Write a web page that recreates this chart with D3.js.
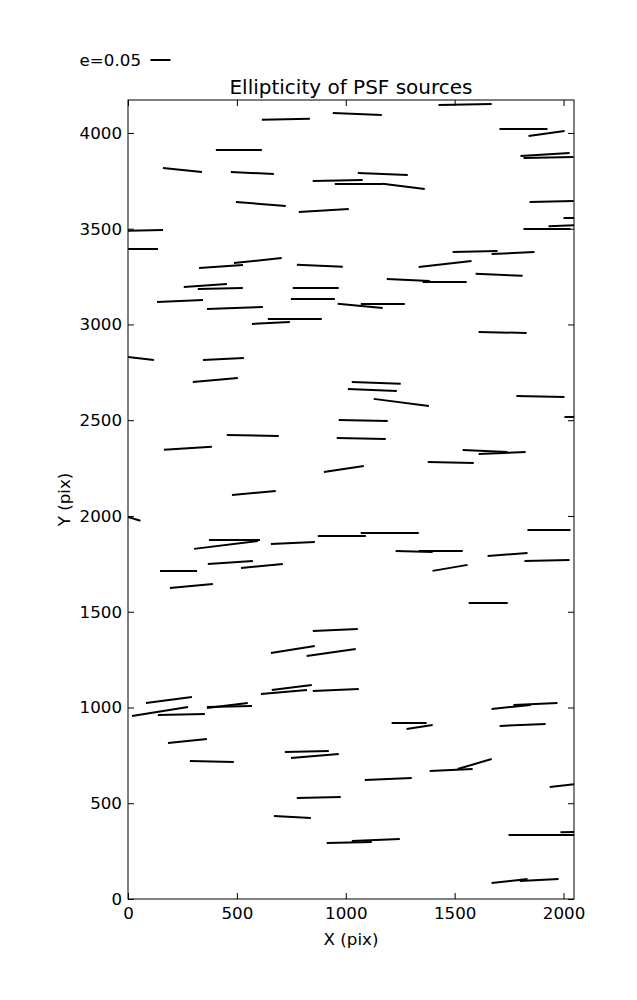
<!DOCTYPE html>
<html>
<head>
<meta charset="utf-8">
<script src="https://cdn.jsdelivr.net/npm/d3@7"></script>
<style>
  html, body { margin: 0; padding: 0; background: #fff; }
  text { font-family: "DejaVu Sans", sans-serif; }
</style>
</head>
<body>
<svg id="chart" width="637" height="1000"></svg>
<script>
// PSF source centres (pixel coordinates on the detector)
const xs = [1548,725,1053,1816,1922,509,250,571,1170,963,
  1060,1266,1915,1931,610,899,60,1945,2064,2023,
  1924,37,1594,1768,427,596,881,1456,1704,1287,
  1454,355,424,862,849,239,1170,1066,491,766,
  656,1720,37,438,401,1140,1122,1255,1894,2073,
  1080,573,1071,275,1640,1718,1482,991,578,0,
  489,450,757,982,1202,470,615,232,291,1314,
  1436,1743,1933,1924,1479,1654,952,757,933,188,
  716,752,954,147,245,456,466,273,385,821,
  858,876,755,1016,1138,1759,1871,1812,1291,1339,
  1484,1592,1195,2037,1846,1991,2050,1752,1888];
const ys = [4149,4071,4099,4021,3997,3911,3807,3791,3786,3752,
  3734,3721,3888,3872,3629,3595,3491,3642,3556,3517,
  3499,3394,3381,3373,3303,3334,3306,3316,3259,3232,
  3222,3204,3188,3191,3133,3123,3107,3097,3086,3029,
  3008,2958,2825,2820,2710,2695,2658,2593,2624,2517,
  2499,2420,2405,2353,2339,2329,2279,2245,2120,1995,
  1875,1849,1859,1896,1911,1757,1739,1713,1634,1815,
  1817,1799,1927,1768,1729,1546,1405,1303,1287,1039,
  1081,1104,1091,979,963,1010,1005,825,718,770,
  747,530,428,295,308,1003,1018,909,919,898,
  674,705,627,598,334,334,350,94,99];
// ellipticity magnitude
const es = [0.133,0.12,0.1225,0.12,0.091,0.115,0.098,0.1075,0.125,0.125,
  0.12,0.106,0.123,0.125,0.125,0.125,0.11,0.11,0.07,0.1,
  0.1175,0.11,0.1125,0.1075,0.11,0.12,0.115,0.133,0.1175,0.1075,
  0.11,0.108,0.1125,0.115,0.11,0.115,0.11,0.113,0.14,0.135,
  0.095,0.12,0.09,0.1025,0.113,0.1225,0.1225,0.139,0.12,0.075,
  0.1225,0.13,0.1225,0.12,0.1125,0.1175,0.115,0.101,0.11,0.065,
  0.1275,0.161,0.11,0.12,0.145,0.113,0.105,0.0925,0.108,0.0925,
  0.11,0.1,0.1075,0.1125,0.089,0.0975,0.1125,0.111,0.124,0.116,
  0.1155,0.101,0.115,0.142,0.1175,0.103,0.1125,0.098,0.11,0.11,
  0.12,0.11,0.0925,0.1125,0.12,0.098,0.11,0.115,0.0875,0.066,
  0.1075,0.0885,0.1175,0.11,0.1075,0.11,0.07,0.0905,0.0975];
// position angle of the whisker (degrees, counter-clockwise from +x)
const angles = [1.1,1.2,-2.3,0,7.9,0,-5.9,-2.7,-2.3,1.1,
  0,-6.8,3.5,1.1,-4.6,3.4,1.3,1.3,0,2,
  0,0,1.3,2.7,3.9,5.9,-2.5,6.5,-2.4,-2.7,
  0,4,1.3,0,0,2.5,0,-5.1,2,0,
  3,-1.2,-6.8,2.8,5.1,-2.3,-2.3,-7.3,-1.2,0,
  -1.2,-1.1,-1.2,3.6,-2.5,2.4,-1.2,8.5,5.2,-17,
  0,7.1,2.6,0,0,3.8,5.4,0,5.3,-1.5,
  0,4.3,0,1.3,9.7,0,2.5,9,8.1,7.4,
  5,7.1,2.5,9.1,1.2,7,1.3,5.9,-1.3,1.3,
  4.8,1.3,-3.1,1.3,2.4,5.9,2.6,2.5,0,8.7,
  2.7,16.4,2.4,6.8,0,0,1,6.3,2.9];

const xTicks = [0, 500, 1000, 1500, 2000];
const yTicks = [0, 500, 1000, 1500, 2000, 2500, 3000, 3500, 4000];
const keyE = 0.05;
const titleText = "Ellipticity of PSF sources";
const xLabel = "X (pix)";
const yLabel = "Y (pix)";

const svg = d3.select("#chart");
const L = 128, R = 574, T = 100, B = 899;
const x = d3.scaleLinear().domain([0, 2048]).range([L, R]);
const y = d3.scaleLinear().domain([0, 4172]).range([B, T]);
const lenScale = d3.scaleLinear().domain([0, keyE]).range([0, 20]);
const fs = 16.7;

svg.append("rect").attr("width", 637).attr("height", 1000).attr("fill", "#fff");

svg.append("clipPath").attr("id", "clip")
  .append("rect").attr("x", L).attr("y", T).attr("width", R - L).attr("height", B - T);

const data = xs.map((v, i) => ({x: v, y: ys[i], e: es[i], a: angles[i]}));
svg.append("g").attr("clip-path", "url(#clip)")
  .selectAll("line").data(data).join("line")
  .attr("x1", d => x(d.x) - lenScale(d.e) / 2 * Math.cos(d.a * Math.PI / 180))
  .attr("y1", d => y(d.y) + lenScale(d.e) / 2 * Math.sin(d.a * Math.PI / 180))
  .attr("x2", d => x(d.x) + lenScale(d.e) / 2 * Math.cos(d.a * Math.PI / 180))
  .attr("y2", d => y(d.y) - lenScale(d.e) / 2 * Math.sin(d.a * Math.PI / 180))
  .attr("stroke", "#000").attr("stroke-width", 2);

function styleAxis(g, labels) {
  g.select(".domain").remove();
  g.selectAll(".tick line").attr("stroke", "#000").attr("stroke-width", 1);
  g.selectAll(".tick text").attr("fill", "#000")
    .style("font-size", fs + "px").style("font-family", "DejaVu Sans");
  if (!labels) g.selectAll(".tick text").remove();
}

svg.append("g").attr("transform", `translate(0,${B})`)
  .call(d3.axisBottom(x).tickValues(xTicks).tickFormat(d3.format("d")).tickSizeInner(-6).tickSizeOuter(0).tickPadding(8))
  .call(g => styleAxis(g, true));
svg.append("g").attr("transform", `translate(0,${T})`)
  .call(d3.axisTop(x).tickValues(xTicks).tickSizeInner(-6).tickSizeOuter(0))
  .call(g => styleAxis(g, false));
svg.append("g").attr("transform", `translate(${L},0)`)
  .call(d3.axisLeft(y).tickValues(yTicks).tickFormat(d3.format("d")).tickSizeInner(-6).tickSizeOuter(0).tickPadding(6))
  .call(g => styleAxis(g, true));
svg.append("g").attr("transform", `translate(${R},0)`)
  .call(d3.axisRight(y).tickValues(yTicks).tickSizeInner(-6).tickSizeOuter(0))
  .call(g => styleAxis(g, false));

svg.append("rect").attr("x", L).attr("y", T).attr("width", R - L).attr("height", B - T)
  .attr("fill", "none").attr("stroke", "#000").attr("stroke-width", 1);

svg.append("text").attr("x", (L + R) / 2).attr("y", 94).attr("text-anchor", "middle")
  .style("font-size", "20px").text(titleText);
svg.append("text").attr("x", (L + R) / 2).attr("y", 945).attr("text-anchor", "middle")
  .style("font-size", fs + "px").text(xLabel);
svg.append("text").attr("transform", `translate(70,${(T + B) / 2}) rotate(-90)`)
  .attr("text-anchor", "middle").style("font-size", fs + "px").text(yLabel);

// quiver key
svg.append("line").attr("x1", 150.5).attr("x2", 150.5 + lenScale(keyE))
  .attr("y1", 60).attr("y2", 60).attr("stroke", "#000").attr("stroke-width", 2);
svg.append("text").attr("x", 141).attr("y", 66).attr("text-anchor", "end")
  .style("font-size", fs + "px").text("e=" + keyE.toFixed(2));
</script>
</body>
</html>
